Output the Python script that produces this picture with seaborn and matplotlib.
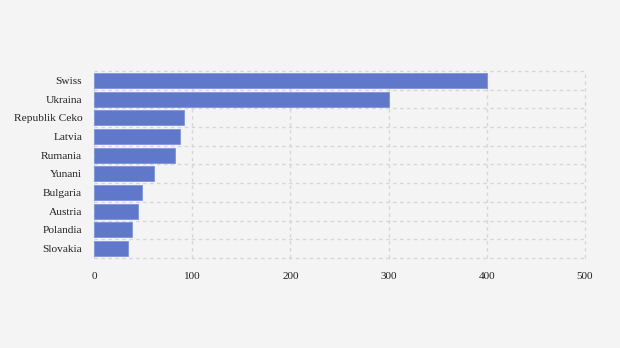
import matplotlib
matplotlib.use("Agg")
import matplotlib.pyplot as plt
import seaborn as sns
import pandas as pd

countries = ["Swiss", "Ukraina", "Republik Ceko", "Latvia", "Rumania",
             "Yunani", "Bulgaria", "Austria", "Polandia", "Slovakia"]
values = [400, 300, 92, 88, 82, 61, 49, 45, 39, 35]
x_ticks = [0, 100, 200, 300, 400, 500]

df = pd.DataFrame({"country": countries, "value": values})

sns.set_theme(style="white")
plt.rcParams["font.family"] = ["Liberation Serif", "DejaVu Serif"]

bg = "#f4f4f4"
fig = plt.figure(figsize=(6.2, 3.48), dpi=100, facecolor=bg)
ax = fig.add_axes([0.1516, 0.2586, 0.7919, 0.5374])
ax.set_facecolor(bg)

sns.barplot(data=df, x="value", y="country", orient="h", color="#5f78c9",
            saturation=1, width=0.8, edgecolor="#7f93d6", linewidth=0.6,
            ax=ax, zorder=3)

ax.set_xlim(0, 500)
ax.set_ylim(len(countries) - 0.5, -0.5)
ax.set_xticks(x_ticks)
ax.set_xticklabels([str(t) for t in x_ticks])
ax.set_yticks(range(len(countries)))
ax.set_yticks([i - 0.5 for i in range(len(countries) + 1)], minor=True)

grid_kw = dict(color="#d6d6d6", linestyle=(0, (2.5, 2.5)), linewidth=1.0)
ax.grid(axis="x", which="major", **grid_kw)
ax.grid(axis="y", which="minor", **grid_kw)
ax.grid(axis="y", which="major", visible=False)
ax.set_axisbelow(True)
for gl in ax.get_xgridlines() + ax.yaxis.get_minorticklines():
    gl.set_clip_on(False)
for t in ax.xaxis.get_major_ticks() + ax.yaxis.get_minor_ticks():
    t.gridline.set_clip_on(False)

for s in ax.spines.values():
    s.set_visible(False)

ax.tick_params(axis="y", which="major", length=3.5, width=1, color="#d6d6d6",
               pad=5, labelsize=8.2, labelcolor="#222222")
ax.tick_params(axis="y", which="minor", length=0)
ax.tick_params(axis="x", length=0, pad=10, labelsize=8, labelcolor="#222222")
ax.set_xlabel("")
ax.set_ylabel("")

fig.savefig("out.png", dpi=100, facecolor=bg)
